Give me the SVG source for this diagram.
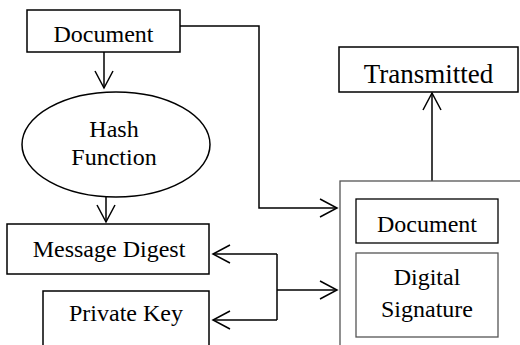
<svg xmlns="http://www.w3.org/2000/svg" width="520" height="345" viewBox="0 0 520 345">
<style>
.box{fill:#fff;stroke:#000;stroke-width:1.5}
.gbox{fill:#fff;stroke:#555;stroke-width:1.3}
.t{font-family:"Liberation Serif","Times New Roman",serif;font-size:24px;fill:#000;text-anchor:middle}
.c{fill:none;stroke:#000;stroke-width:1.5}
</style>
<defs>
<marker id="ah" markerUnits="userSpaceOnUse" markerWidth="20" markerHeight="20" refX="18" refY="10" orient="auto" overflow="visible">
<path d="M1,1 L18,10 L1,19" fill="none" stroke="#000" stroke-width="1.5"/>
</marker>
</defs>
<rect width="520" height="345" fill="#fff"/>
<g id="connectors">
<path class="c" d="M104,52 V88" marker-end="url(#ah)"/>
<path class="c" d="M106,197 V222" marker-end="url(#ah)"/>
<path class="c" d="M180,26 H259 V208 H337" marker-end="url(#ah)"/>
<path class="c" d="M277,254 V320"/>
<path class="c" d="M277,254 H213" marker-end="url(#ah)"/>
<path class="c" d="M277,320 H213" marker-end="url(#ah)"/>
<path class="c" d="M277,290 H337" marker-end="url(#ah)"/>
<path class="c" d="M432,181 V93" marker-end="url(#ah)"/>
</g>
<g id="document">
<rect class="box" x="27" y="10" width="153" height="42"/>
<text class="t" x="103.5" y="42">Document</text>
</g>
<g id="hash">
<ellipse class="box" cx="116" cy="144.5" rx="94" ry="52.5"/>
<text class="t" x="114" y="137">Hash</text>
<text class="t" x="114" y="165">Function</text>
</g>
<g id="digest">
<rect class="box" x="7" y="224" width="202" height="50"/>
<text class="t" x="109" y="257">Message Digest</text>
</g>
<g id="key">
<rect class="box" x="43" y="291" width="166" height="60"/>
<text class="t" x="126" y="321">Private Key</text>
</g>
<g id="transmitted">
<rect class="box" x="339" y="47" width="179" height="45"/>
<text class="t" x="428.5" y="83" style="font-size:27px">Transmitted</text>
</g>
<g id="package">
<rect class="gbox" x="340" y="181" width="190" height="180"/>
</g>
<g id="doc2">
<rect class="box" x="356" y="199" width="142" height="44" style="stroke-width:1.3"/>
<text class="t" x="427" y="232">Document</text>
</g>
<g id="signature">
<rect class="gbox" x="356" y="253" width="142" height="84"/>
<text class="t" x="427" y="285">Digital</text>
<text class="t" x="427" y="317">Signature</text>
</g>
</svg>
